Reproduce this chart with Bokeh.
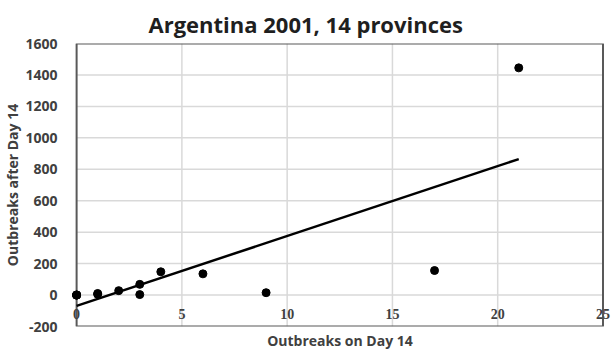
import numpy as np
from bokeh.plotting import figure
from bokeh.models import LinearAxis, FixedTicker, Range1d, LabelSet, ColumnDataSource
from bokeh.embed import file_html
from bokeh.resources import INLINE

# Data
day14 = [0, 0, 0, 0, 1, 1, 2, 3, 3, 4, 6, 9, 17, 21]
after14 = [0, 0, 0, 0, 5, 10, 28, 68, 3, 148, 135, 15, 156, 1445]
x_ticks = [0, 5, 10, 15, 20, 25]
y_ticks = [-200, 0, 200, 400, 600, 800, 1000, 1200, 1400, 1600]

slope, intercept = np.polyfit(day14, after14, 1)
trend_x = [min(day14), max(day14)]
trend_y = [intercept + slope * v for v in trend_x]

x_lo, x_hi = min(x_ticks), max(x_ticks)
y_lo, y_hi = min(y_ticks), max(y_ticks)

FONT = "Open Sans"
TXT = "#404040"
GRID = "#d9d9d9"

p = figure(width=616, height=352, output_backend="svg", toolbar_location=None,
           x_range=Range1d(x_lo - 0.48, x_hi + 0.5), y_range=Range1d(y_lo, y_hi),
           x_axis_location=None, y_axis_location=None,
           min_border_left=66, min_border_right=3, min_border_top=43, min_border_bottom=26)

p.title.text = "Argentina 2001, 14 provinces"
p.title.text_font = FONT
p.title.text_font_size = "22px"
p.title.text_font_style = "bold"
p.title.text_color = "#1f1f1f"
p.title.align = "left"
p.title.offset = 82
p.title.standoff = 9

p.outline_line_color = None
p.background_fill_color = "white"
p.border_fill_color = "white"
p.xgrid.visible = False
p.ygrid.visible = False

# y axis (left)
yax = LinearAxis(ticker=FixedTicker(ticks=y_ticks), axis_label="Outbreaks after Day 14")
yax.major_label_overrides = {t: str(t) for t in y_ticks}
yax.axis_line_color = None
yax.major_tick_line_color = None
yax.minor_tick_line_color = None
yax.major_label_text_font = FONT
yax.major_label_text_font_size = "14px"
yax.major_label_text_font_style = "bold"
yax.major_label_text_color = TXT
yax.major_label_standoff = 3
yax.axis_label_text_font = FONT
yax.axis_label_text_font_size = "14px"
yax.axis_label_text_font_style = "bold"
yax.axis_label_text_color = TXT
yax.axis_label_standoff = 0
p.add_layout(yax, "left")

# x axis title at the bottom
xlab = LinearAxis(ticker=FixedTicker(ticks=[]), axis_label="Outbreaks on Day 14")
xlab.axis_line_color = None
xlab.major_tick_line_color = None
xlab.minor_tick_line_color = None
xlab.major_tick_out = 0
xlab.major_label_standoff = 0
xlab.major_label_text_font_size = "0px"
xlab.axis_label_text_font = FONT
xlab.axis_label_text_font_size = "14px"
xlab.axis_label_text_font_style = "bold"
xlab.axis_label_text_color = TXT
xlab.axis_label_standoff = 4
p.add_layout(xlab, "below")

# gridlines
inner_x = [t for t in x_ticks if x_lo < t < x_hi]
inner_y = [t for t in y_ticks if y_lo < t < y_hi]
p.segment(x0=inner_x, x1=inner_x, y0=[y_lo] * len(inner_x), y1=[y_hi] * len(inner_x),
          line_color=GRID, line_width=1.5)
p.segment(x0=[x_lo] * len(inner_y), x1=[x_hi] * len(inner_y), y0=inner_y, y1=inner_y,
          line_color=GRID, line_width=1.5)

# plot-area border
p.quad(left=[x_lo], right=[x_hi], bottom=[y_lo], top=[y_hi],
       fill_color=None, line_color="#595959", line_width=2)

# x tick labels sitting just below y = 0
tick_src = ColumnDataSource(dict(x=x_ticks, y=[0] * len(x_ticks), t=[str(v) for v in x_ticks]))
p.add_layout(LabelSet(x="x", y="y", text="t", source=tick_src, y_offset=-14,
                      text_align="center", text_baseline="top",
                      text_font=FONT, text_font_size="14px", text_font_style="bold",
                      text_color=TXT))

p.line(trend_x, trend_y, line_color="black", line_width=2.5)
p.scatter(day14, after14, size=8, fill_color="black", line_color="black")

open("out.html", "w").write(file_html(p, INLINE))
